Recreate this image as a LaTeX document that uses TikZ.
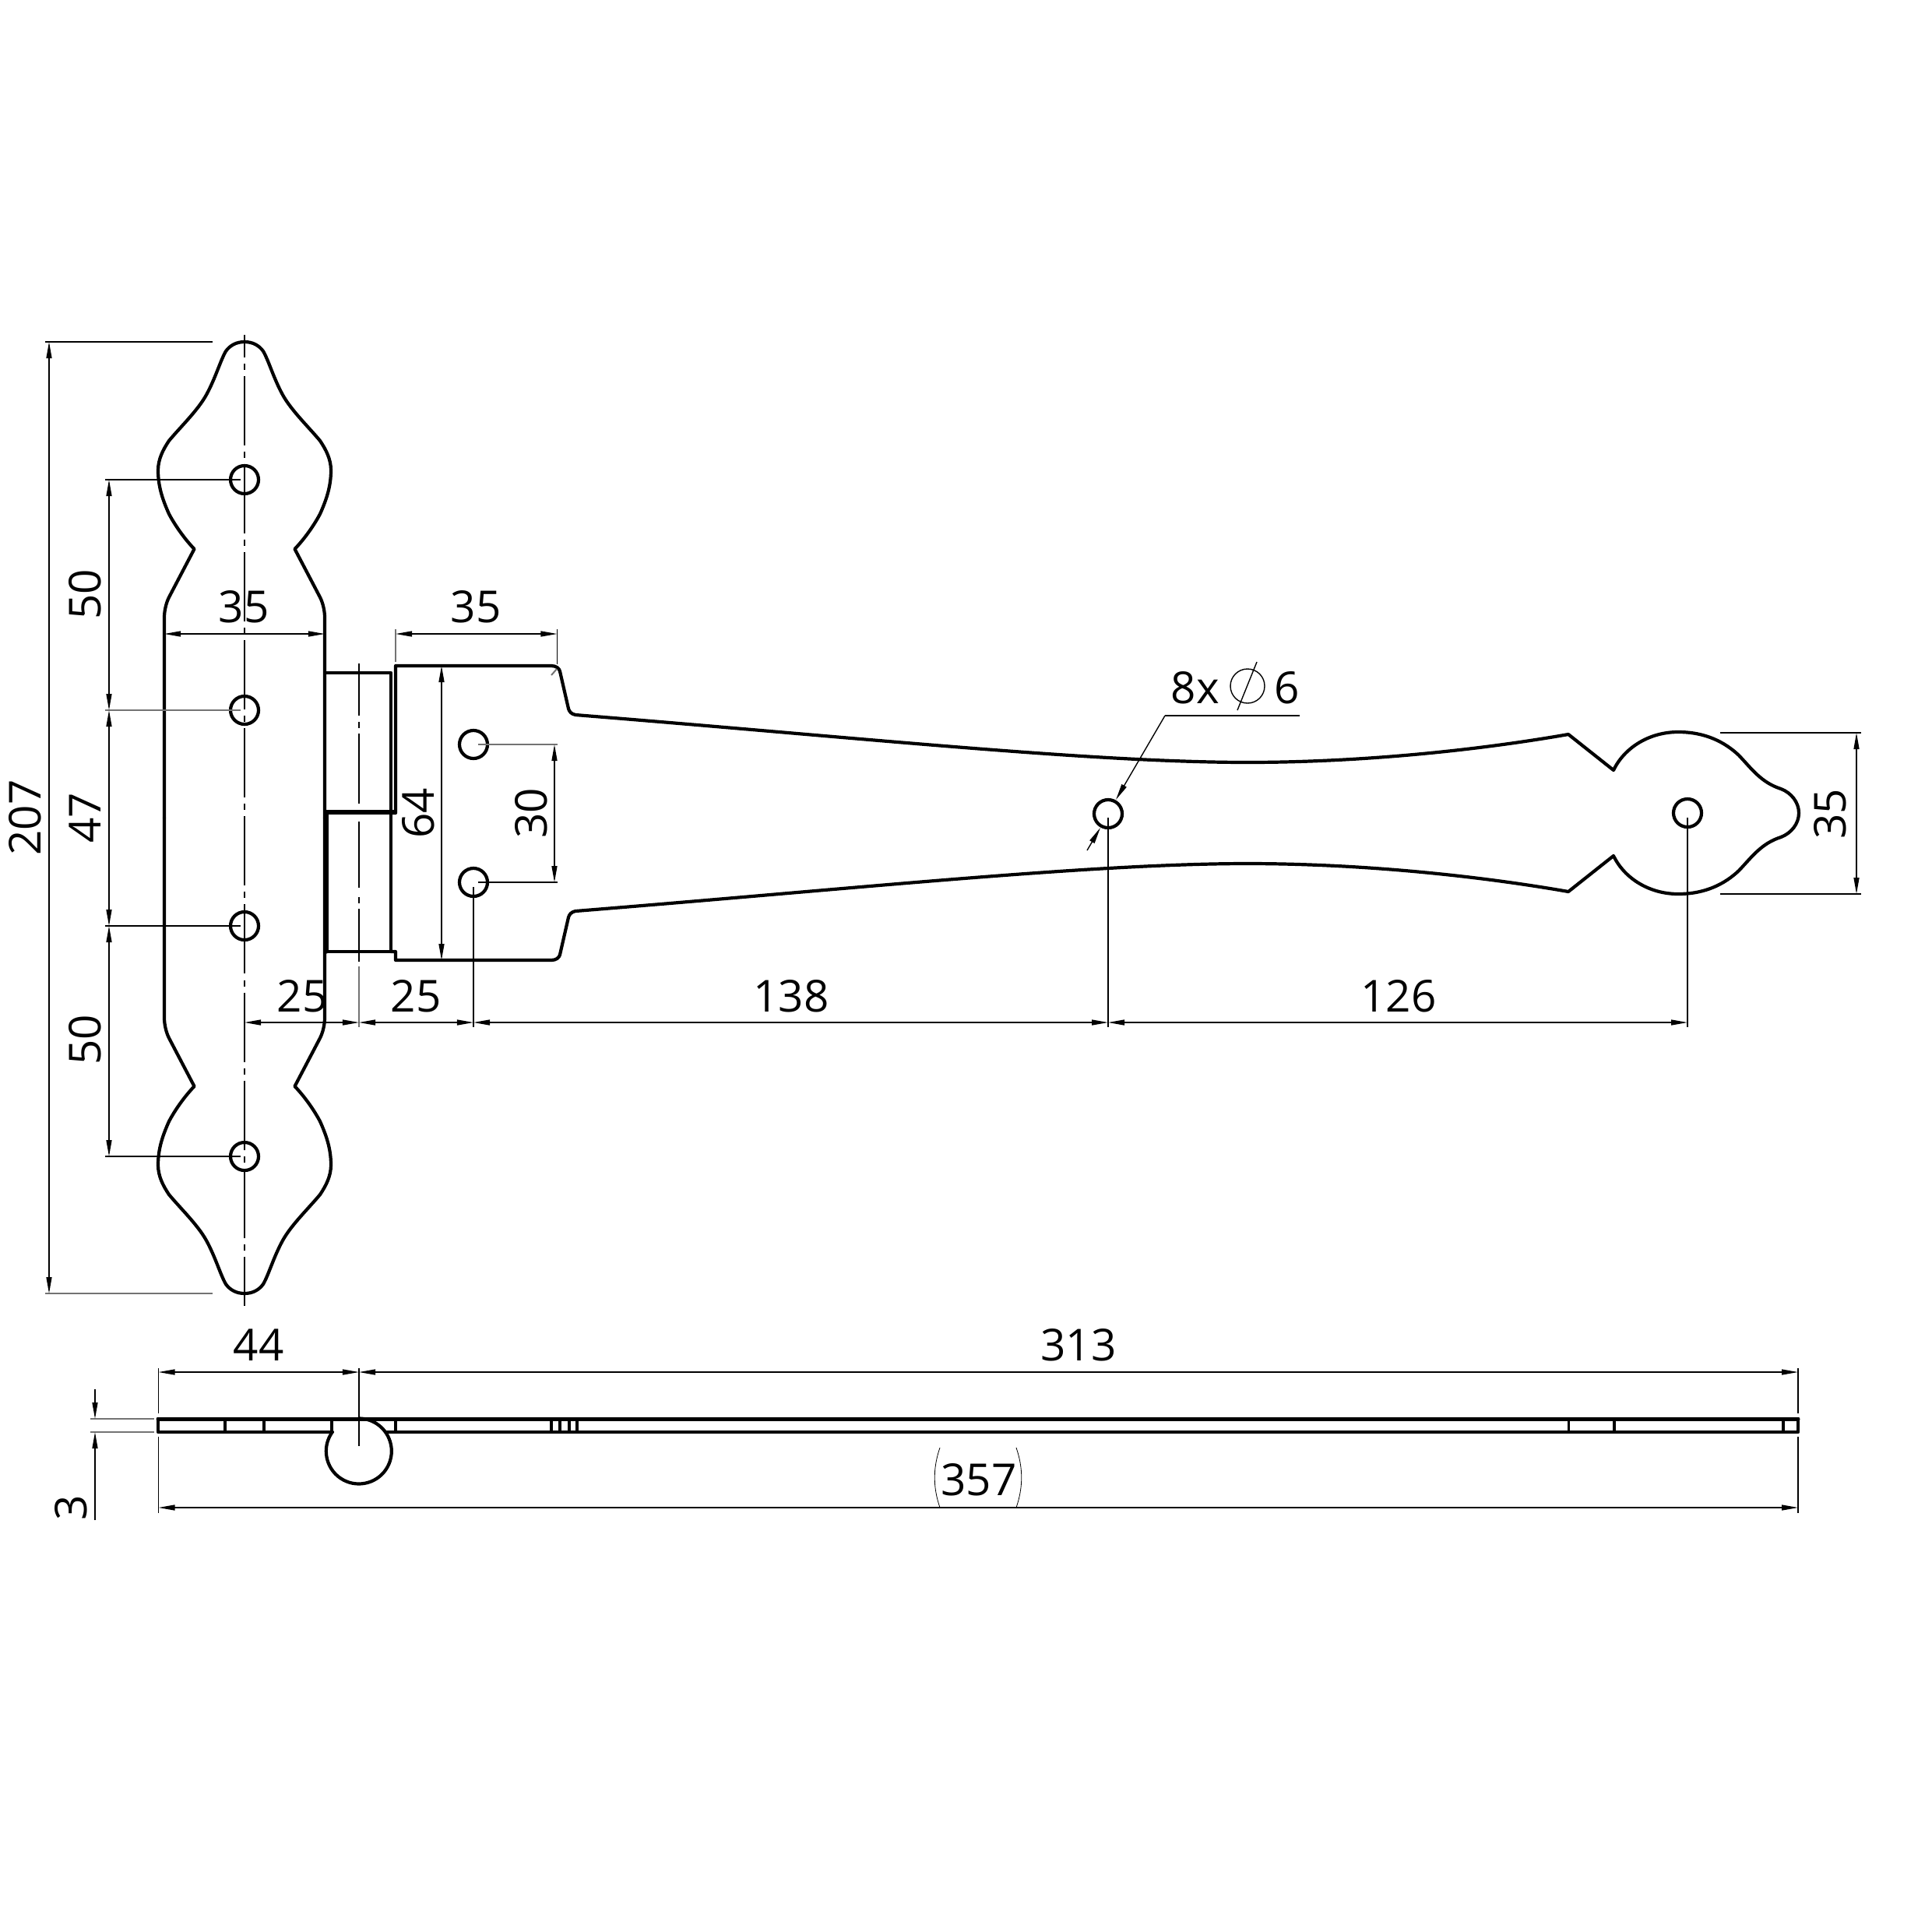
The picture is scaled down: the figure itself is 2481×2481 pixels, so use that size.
\documentclass[tikz,border=0pt]{standalone}
\usepackage{fontspec}
\setmainfont{Open Sans}
\usetikzlibrary{arrows.meta}
\tikzset{
  x=0.01cm,y=-0.01cm,
  part/.style={line width=0.042cm,line join=round,line cap=round,black},
  thick part/.style={line width=0.065cm,line cap=butt,black},
  thinb/.style={line width=0.014cm,black},
  thing/.style={line width=0.02cm,black!55},
  centre/.style={line width=0.014cm,black,dash pattern=on 0.89cm off 0.08cm on 0.08cm off 0.08cm},
  tipa/.tip={Triangle[length=0.21cm,width=0.07cm]},
  dimline/.style={thinb,tipa-tipa},
  holec/.style={circle,draw,line width=0.042cm,minimum size=0.36cm,inner sep=0pt},
  lab/.style={font=\fontsize{16.1pt}{18pt}\selectfont,inner sep=0pt,text=black},
  vlab/.style={lab,rotate=90}
}
\newcommand{\plateqtr}{%
  \draw[part] (314,439) .. controls (303,439) and (295,444) .. (290,451)
    .. controls (283,463) and (277,485) .. (265,507)
    .. controls (254,527) and (232,548) .. (217,566)
    .. controls (209,578) and (203,590) .. (203,604)
    .. controls (203,625) and (209,642) .. (217,660)
    .. controls (225,675) and (237,692) .. (249.5,705)
    -- (217,767) .. controls (213,775) and (211,785) .. (211,793) -- (211,1050);
}
\begin{document}
\begin{tikzpicture}
\useasboundingbox (0,0) rectangle (2481,2481);
\fill[white] (0,0) rectangle (2481,2481);
% top plate, four mirrored quarters
\plateqtr
\begin{scope}[shift={(628,0)},xscale=-1]\plateqtr\end{scope}
\begin{scope}[shift={(0,2100)},yscale=-1]\plateqtr\end{scope}
\begin{scope}[shift={(628,2100)},xscale=-1,yscale=-1]\plateqtr\end{scope}
% knuckles
\draw[part] (418,864) -- (502,864) -- (502,1222) -- (418,1222);
\draw[thick part] (418,1043) -- (508,1043);
\draw[part,line width=0.05cm] (419,1043) -- (419,1222);
% long leaf
\draw[part] (502,1044) -- (508,1044) -- (508,855) -- (708,855) .. controls (714,855) and (718,858) .. (719,862) -- (730,910) .. controls (731,914) and (734,917) .. (739,918)
  .. controls (1100,947) and (1400,979) .. (1602,979)
  .. controls (1750,979) and (1900,963) .. (2014,943)
  -- (2072,989)
  .. controls (2086,960) and (2118,940) .. (2155,940)
  .. controls (2190,940) and (2215,953) .. (2233,970)
  .. controls (2250,988) and (2262,1005) .. (2287,1013)
  .. controls (2300,1018) and (2310,1030) .. (2310,1044)
  .. controls (2310,1058) and (2300,1070) .. (2287,1075)
  .. controls (2262,1083) and (2250,1100) .. (2233,1118)
  .. controls (2215,1135) and (2190,1148) .. (2155,1148)
  .. controls (2118,1148) and (2086,1128) .. (2072,1099)
  -- (2014,1145)
  .. controls (1900,1125) and (1750,1109) .. (1602,1109)
  .. controls (1400,1109) and (1100,1141) .. (739,1170)
  .. controls (734,1171) and (731,1174) .. (730,1178) -- (719,1226) .. controls (718,1230) and (714,1233) .. (708,1233) -- (508,1233) -- (508,1222) -- (502,1222);
% holes
\foreach \n/\hx/\hy in {a/314/616,b/314/912,c/314/1189,d/314/1485,e/608/956,f/608/1133,g/1423/1045,h/2167/1044}
  \node[holec] (hole\n) at (\hx,\hy) {};
% centre lines
\draw[centre,dash phase=0.6cm] (314,430) -- (314,1677);
\draw[line width=0.014cm,dash pattern=on 0.67cm off 0.08cm on 0.08cm off 0.07cm on 0.9cm] (461,852) -- (461,1032);
\draw[line width=0.014cm,dash pattern=on 0.85cm off 0.12cm on 0.08cm off 0.07cm on 0.68cm] (461,1055) -- (461,1235);
% extension lines
\draw[thinb] (58,439) -- (273,439);
\draw[thing] (58,1661) -- (273,1661);
\draw[thinb] (135,616) -- (309,616);
\draw[thing] (135,912) -- (309,912);
\draw[thinb] (135,1189) -- (309,1189);
\draw[thinb] (135,1485) -- (309,1485);
\draw[thing] (508,808) -- (508,850);
\draw[thinb] (715.5,808) -- (715.5,853);
\draw[thing] (708,867) -- (715,859);
\draw[thing] (614,956) -- (716,956);
\draw[thinb] (614,1133) -- (716,1133);
\draw[thinb] (608,1139) -- (608,1319);
\draw[thing] (461,1241) -- (461,1319);
\draw[thinb] (1423,1050) -- (1423,1319);
\draw[thinb] (2167,1050) -- (2167,1319);
\draw[thinb] (2209,941) -- (2390,941);
\draw[thinb] (2209,1148) -- (2390,1148);
% dimension lines
\draw[dimline] (63,439) -- (63,1661);
\draw[dimline] (140,616) -- (140,912);
\draw[dimline] (140,912) -- (140,1189);
\draw[dimline] (140,1189) -- (140,1485);
\draw[dimline] (211,814) -- (417,814);
\draw[dimline] (508,814) -- (715.5,814);
\draw[dimline] (567,855) -- (567,1233);
\draw[dimline] (712,956) -- (712,1133);
\draw[dimline] (314,1313) -- (461,1313);
\draw[dimline] (461,1313) -- (608,1313);
\draw[dimline] (608,1313) -- (1423,1313);
\draw[dimline] (1423,1313) -- (2167,1313);
\draw[dimline] (2384,941) -- (2384,1148);
% diameter leader
\draw[thinb] (1669,919) -- (1496,919);
\draw[thinb,-tipa] (1496,919) -- (1433,1027);
\draw[thinb,-tipa] (1396,1092) -- (1413,1063);
\draw[thinb] (1602,881) circle (22);
\draw[thinb] (1614,850) -- (1589,912);
% side view
\draw[part,line width=0.05cm] (203,1822) -- (2309,1822);
\draw[part] (203,1822) -- (203,1839) -- (427,1839);
\draw[part] (497,1839) -- (2309,1839) -- (2309,1822);
\foreach \vx in {289,339,426,508,708,719,731,741,2014.5,2073,2290}
  \draw[part,line width=0.035cm] (\vx,1822) -- (\vx,1839);
\draw[part] (426,1840) arc[start angle=214,end angle=-90,radius=42];
\draw[line width=0.018cm] (461,1757) -- (461,1857);
\draw[thinb] (203.5,1757) -- (203.5,1815);
\draw[thinb] (203.5,1845) -- (203.5,1943);
\draw[thinb] (2309,1757) -- (2309,1815);
\draw[thinb] (2309,1845) -- (2309,1943);
\draw[dimline] (203.5,1762) -- (461,1762);
\draw[dimline] (461,1762) -- (2309,1762);
\draw[dimline] (203.5,1936) -- (2309,1936);
\draw[thing] (116,1822) -- (197.5,1822);
\draw[thing] (116,1839) -- (197.5,1839);
\draw[thinb,-tipa] (122,1784) -- (122,1822);
\draw[thinb,-tipa] (122,1952) -- (122,1839);
\draw[line width=0.008cm] (1207,1859) .. controls (1198,1885) and (1198,1910) .. (1207,1936);
\draw[line width=0.008cm] (1305,1859) .. controls (1314,1885) and (1314,1910) .. (1305,1936);
% labels
\node[lab] (d35a) at (313,779) {35};
\node[lab] (d35b) at (611,779) {35};
\node[vlab] (d50a) at (109,763) {50};
\node[vlab] (d47) at (109,1050) {47};
\node[vlab] (d50b) at (109,1335) {50};
\node[vlab] (d207) at (32,1050) {207};
\node[vlab] (d64) at (537,1044) {64};
\node[vlab] (d30) at (682,1044) {30};
\node[vlab] (d35c) at (2350,1045) {35};
\node[lab] (d25a) at (388,1279) {25};
\node[lab] (d25b) at (534,1279) {25};
\node[lab] (d138) at (1016,1279) {138};
\node[lab] (d126) at (1796,1279) {126};
\node[lab] (d8x) at (1535,883) {8x};
\node[lab] (d6) at (1653,883) {6};
\node[lab] (d44) at (332,1727) {44};
\node[lab] (d313) at (1385,1727) {313};
\node[lab] (d357) at (1257,1900) {357};
\node[vlab] (d3) at (91,1936) {3};
\end{tikzpicture}
\end{document}
